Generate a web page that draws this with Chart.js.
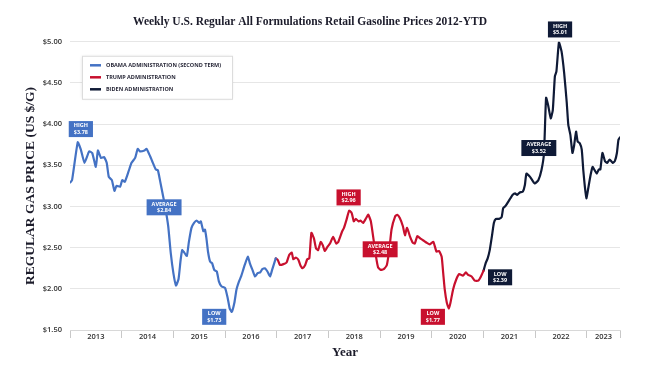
<!DOCTYPE html>
<html>
<head>
  <title>Weekly Gasoline Prices</title>
  <script src="https://cdn.jsdelivr.net/npm/chart.js"></script>
  <style>
    body { margin: 0; background: #fff; }
    #wrap { width: 650px; height: 370px; }
  </style>
</head>
<body>

<div id="wrap"><canvas id="gasChart"></canvas></div>

<script>
  // dates are decimal years, prices in US $/gal
  const obamaDates = [2013.00, 2013.04, 2013.15, 2013.21, 2013.28, 2013.37, 2013.43, 2013.50, 2013.54, 2013.60,
    2013.66, 2013.71, 2013.75, 2013.81, 2013.86, 2013.90, 2013.97, 2014.01, 2014.06, 2014.13,
    2014.19, 2014.26, 2014.31, 2014.35, 2014.44, 2014.48, 2014.55, 2014.59, 2014.66, 2014.70,
    2014.74, 2014.79, 2014.84, 2014.90, 2014.95, 2015.00, 2015.05, 2015.10, 2015.14, 2015.17,
    2015.20, 2015.26, 2015.30, 2015.35, 2015.40, 2015.45, 2015.50, 2015.53, 2015.58, 2015.61,
    2015.64, 2015.67, 2015.71, 2015.75, 2015.79, 2015.84, 2015.88, 2015.93, 2016.00, 2016.05,
    2016.09, 2016.13, 2016.18, 2016.22, 2016.27, 2016.31, 2016.35, 2016.38, 2016.44, 2016.48,
    2016.53, 2016.58, 2016.63, 2016.68, 2016.72, 2016.77, 2016.82, 2016.87, 2016.91, 2016.98];
  const obamaPrices = [3.29, 3.32, 3.78, 3.69, 3.53, 3.67, 3.65, 3.48, 3.68, 3.59,
    3.60, 3.53, 3.36, 3.32, 3.19, 3.25, 3.24, 3.32, 3.30, 3.42,
    3.53, 3.59, 3.70, 3.67, 3.68, 3.70, 3.61, 3.55, 3.45, 3.44,
    3.32, 3.16, 3.00, 2.76, 2.43, 2.19, 2.04, 2.12, 2.35, 2.47,
    2.45, 2.40, 2.57, 2.74, 2.80, 2.83, 2.80, 2.82, 2.70, 2.72,
    2.61, 2.45, 2.33, 2.31, 2.23, 2.21, 2.09, 2.03, 2.01, 1.89,
    1.76, 1.72, 1.83, 1.99, 2.09, 2.15, 2.23, 2.29, 2.39, 2.31,
    2.23, 2.15, 2.19, 2.20, 2.24, 2.25, 2.21, 2.15, 2.23, 2.37];

  const trumpDates = [2016.98, 2017.02, 2017.06, 2017.13, 2017.19, 2017.24, 2017.29, 2017.32, 2017.37, 2017.42,
    2017.46, 2017.50, 2017.55, 2017.59, 2017.63, 2017.67, 2017.72, 2017.76, 2017.80, 2017.85,
    2017.89, 2017.93, 2017.98, 2018.03, 2018.09, 2018.15, 2018.19, 2018.26, 2018.30, 2018.35,
    2018.40, 2018.45, 2018.49, 2018.53, 2018.58, 2018.62, 2018.67, 2018.73, 2018.77, 2018.82,
    2018.87, 2018.92, 2018.96, 2019.01, 2019.07, 2019.13, 2019.18, 2019.22, 2019.29, 2019.33,
    2019.38, 2019.44, 2019.48, 2019.52, 2019.58, 2019.63, 2019.67, 2019.72, 2019.78, 2019.83,
    2019.90, 2019.96, 2020.03, 2020.09, 2020.14, 2020.19, 2020.22, 2020.25, 2020.29, 2020.33,
    2020.36, 2020.41, 2020.47, 2020.53, 2020.60, 2020.66, 2020.70, 2020.77, 2020.83, 2020.90,
    2020.95, 2021.00];
  const trumpPrices = [2.37, 2.35, 2.29, 2.30, 2.32, 2.41, 2.44, 2.36, 2.38, 2.35,
    2.28, 2.25, 2.29, 2.36, 2.37, 2.68, 2.61, 2.49, 2.47, 2.57,
    2.53, 2.46, 2.51, 2.55, 2.63, 2.55, 2.57, 2.69, 2.74, 2.84,
    2.95, 2.92, 2.82, 2.85, 2.82, 2.83, 2.80, 2.86, 2.90, 2.82,
    2.61, 2.39, 2.26, 2.23, 2.24, 2.29, 2.49, 2.72, 2.88, 2.90,
    2.86, 2.76, 2.65, 2.74, 2.63, 2.56, 2.55, 2.64, 2.61, 2.59,
    2.56, 2.54, 2.57, 2.45, 2.46, 2.39, 2.19, 1.99, 1.83, 1.76,
    1.83, 1.99, 2.11, 2.18, 2.16, 2.20, 2.17, 2.15, 2.10, 2.10,
    2.15, 2.22];

  const bidenDates = [2021.00, 2021.04, 2021.08, 2021.12, 2021.16, 2021.20, 2021.24, 2021.30, 2021.35, 2021.38,
    2021.43, 2021.48, 2021.52, 2021.56, 2021.61, 2021.65, 2021.70, 2021.76, 2021.80, 2021.83,
    2021.90, 2021.99, 2022.06, 2022.12, 2022.17, 2022.21, 2022.25, 2022.30, 2022.34, 2022.38,
    2022.41, 2022.46, 2022.51, 2022.56, 2022.61, 2022.64, 2022.68, 2022.72, 2022.75, 2022.79,
    2022.82, 2022.86, 2022.90, 2022.93, 2022.96, 2022.99, 2023.02, 2023.07, 2023.11, 2023.15,
    2023.19, 2023.23, 2023.26, 2023.30, 2023.35, 2023.39, 2023.44, 2023.50, 2023.54, 2023.58,
    2023.61, 2023.64];
  const bidenPrices = [2.22, 2.31, 2.37, 2.47, 2.63, 2.80, 2.85, 2.85, 2.87, 2.98,
    3.01, 3.06, 3.10, 3.14, 3.16, 3.14, 3.17, 3.18, 3.26, 3.40,
    3.36, 3.28, 3.32, 3.44, 3.65, 4.32, 4.23, 4.07, 4.17, 4.58,
    4.64, 5.00, 4.88, 4.62, 4.26, 3.99, 3.87, 3.65, 3.73, 3.91,
    3.79, 3.77, 3.69, 3.44, 3.24, 3.10, 3.20, 3.38, 3.48, 3.44,
    3.40, 3.45, 3.45, 3.65, 3.55, 3.53, 3.57, 3.53, 3.55, 3.65,
    3.81, 3.84];

  const years = ['2013', '2014', '2015', '2016', '2017', '2018', '2019', '2020', '2021', '2022', '2023'];
  const priceTicks = [1.5, 2.0, 2.5, 3.0, 3.5, 4.0, 4.5, 5.0];

  const BLUE = '#4472c4', RED = '#c8102e', NAVY = '#0f1a36';

  // callout boxes, anchored in data space (year, price)
  const notes = [
    { x: 2013.21, y: 3.94, lines: ['HIGH', '$3.78'], color: BLUE },
    { x: 2014.82, y: 2.99, lines: ['AVERAGE', '$2.84'], color: BLUE },
    { x: 2015.79, y: 1.66, lines: ['LOW', '$1.73'], color: BLUE },
    { x: 2018.39, y: 3.11, lines: ['HIGH', '$2.96'], color: RED },
    { x: 2019.00, y: 2.48, lines: ['AVERAGE', '$2.48'], color: RED },
    { x: 2020.02, y: 1.66, lines: ['LOW', '$1.77'], color: RED },
    { x: 2021.32, y: 2.14, lines: ['LOW', '$2.39'], color: NAVY },
    { x: 2022.07, y: 3.71, lines: ['AVERAGE', '$3.52'], color: NAVY },
    { x: 2022.48, y: 5.15, lines: ['HIGH', '$5.01'], color: NAVY }
  ];

  const xMin = obamaDates[0];
  const xMax = bidenDates[bidenDates.length - 1];

  function toPoints(dates, prices) {
    return dates.map((d, i) => ({ x: d, y: prices[i] }));
  }

  const calloutPlugin = {
    id: 'callouts',
    afterDatasetsDraw(chart) {
      const { ctx, scales } = chart;
      ctx.save();
      ctx.font = 'bold 5.5px "Open Sans"';
      ctx.textAlign = 'center';
      ctx.textBaseline = 'middle';
      notes.forEach(n => {
        const cx = scales.x.getPixelForValue(n.x);
        const cy = scales.y.getPixelForValue(n.y);
        const w = Math.max(...n.lines.map(t => ctx.measureText(t).width)) + 10;
        const h = 16;
        ctx.fillStyle = n.color;
        ctx.fillRect(cx - w / 2, cy - h / 2, w, h);
        ctx.fillStyle = '#fff';
        ctx.fillText(n.lines[0], cx, cy - 3.2);
        ctx.fillText(n.lines[1], cx, cy + 3.4);
      });
      ctx.restore();
    }
  };

  const boxLegendPlugin = {
    id: 'boxLegend',
    afterDraw(chart) {
      const { ctx, chartArea } = chart;
      const left = chartArea.left + 12, top = chartArea.top + 14;
      const w = 150, h = 43;
      ctx.save();
      ctx.shadowColor = 'rgba(0,0,0,0.12)';
      ctx.shadowBlur = 3;
      ctx.fillStyle = '#fff';
      ctx.fillRect(left, top, w, h);
      ctx.shadowColor = 'transparent';
      ctx.strokeStyle = '#dcdcdc';
      ctx.lineWidth = 1;
      ctx.strokeRect(left + 0.5, top + 0.5, w, h);
      ctx.font = 'bold 5.5px "Open Sans"';
      ctx.textBaseline = 'middle';
      chart.data.datasets.forEach((ds, i) => {
        const y = top + 9.5 + i * 12;
        ctx.strokeStyle = ds.borderColor;
        ctx.lineWidth = 2.5;
        ctx.beginPath();
        ctx.moveTo(left + 8, y);
        ctx.lineTo(left + 19, y);
        ctx.stroke();
        ctx.fillStyle = '#2a2a3a';
        ctx.fillText(ds.label, left + 24, y + 0.5);
      });
      ctx.restore();
    }
  };

  const ctx = document.getElementById('gasChart').getContext('2d');

  new Chart(ctx, {
    type: 'line',
    data: {
      datasets: [
        { label: 'OBAMA ADMINISTRATION (SECOND TERM)', data: toPoints(obamaDates, obamaPrices), borderColor: BLUE },
        { label: 'TRUMP ADMINISTRATION', data: toPoints(trumpDates, trumpPrices), borderColor: RED },
        { label: 'BIDEN ADMINISTRATION', data: toPoints(bidenDates, bidenPrices), borderColor: NAVY }
      ]
    },
    options: {
      responsive: true,
      maintainAspectRatio: false,
      animation: false,
      layout: { padding: { left: 0, right: 30, top: 0, bottom: 0 } },
      elements: {
        line: { borderWidth: 2.2, tension: 0.15, borderJoinStyle: 'round', borderCapStyle: 'round' },
        point: { radius: 0 }
      },
      plugins: {
        legend: { display: false },
        tooltip: { enabled: false },
        title: {
          display: true,
          text: 'Weekly U.S. Regular All Formulations Retail Gasoline Prices 2012-YTD',
          color: '#1c1c2b',
          font: { family: 'Liberation Serif', size: 11.5, weight: 'bold' },
          padding: { top: 15, bottom: 13 }
        }
      },
      scales: {
        x: {
          type: 'linear',
          min: xMin,
          max: xMax,
          afterFit(scale) { scale.height = 40; },
          afterBuildTicks(scale) {
            const t = [];
            years.forEach((y, i) => {
              const start = xMin + i;
              const end = Math.min(start + 1, xMax);
              t.push({ value: start });
              t.push({ value: (start + end) / 2 });
            });
            t.push({ value: xMax });
            scale.ticks = t;
          },
          ticks: {
            autoSkip: false,
            maxRotation: 0,
            padding: -6,
            color: '#333',
            font: { family: 'Open Sans', size: 7.5, weight: '600' },
            callback: (value, index) => index % 2 === 1 ? years[(index - 1) / 2] : ''
          },
          grid: {
            drawOnChartArea: false,
            tickLength: 8,
            color: c => c.index % 2 === 0 ? '#c8c8c8' : 'rgba(0,0,0,0)'
          },
          border: { display: true, color: '#d8d8d8' },
          title: {
            display: true,
            text: 'Year',
            color: '#1c1c2b',
            font: { family: 'Liberation Serif', size: 13, weight: 'bold' },
            padding: { top: 0, bottom: 10 }
          }
        },
        y: {
          min: 1.5,
          max: 5.0,
          afterFit(scale) { scale.width = 70; },
          afterBuildTicks(scale) { scale.ticks = priceTicks.map(v => ({ value: v })); },
          ticks: {
            padding: 8,
            color: '#333',
            font: { family: 'Open Sans', size: 7.5, weight: '600' },
            callback: v => '$' + Number(v).toFixed(2)
          },
          grid: { color: '#e6e6e6', drawTicks: false },
          border: { display: false },
          title: {
            display: true,
            text: 'REGULAR GAS PRICE (US $/G)',
            color: '#1c1c2b',
            font: { family: 'Liberation Serif', size: 13.5, weight: 'bold' },
            padding: { top: 22, bottom: 22 }
          }
        }
      }
    },
    plugins: [calloutPlugin, boxLegendPlugin]
  });
</script>

</body>
</html>
